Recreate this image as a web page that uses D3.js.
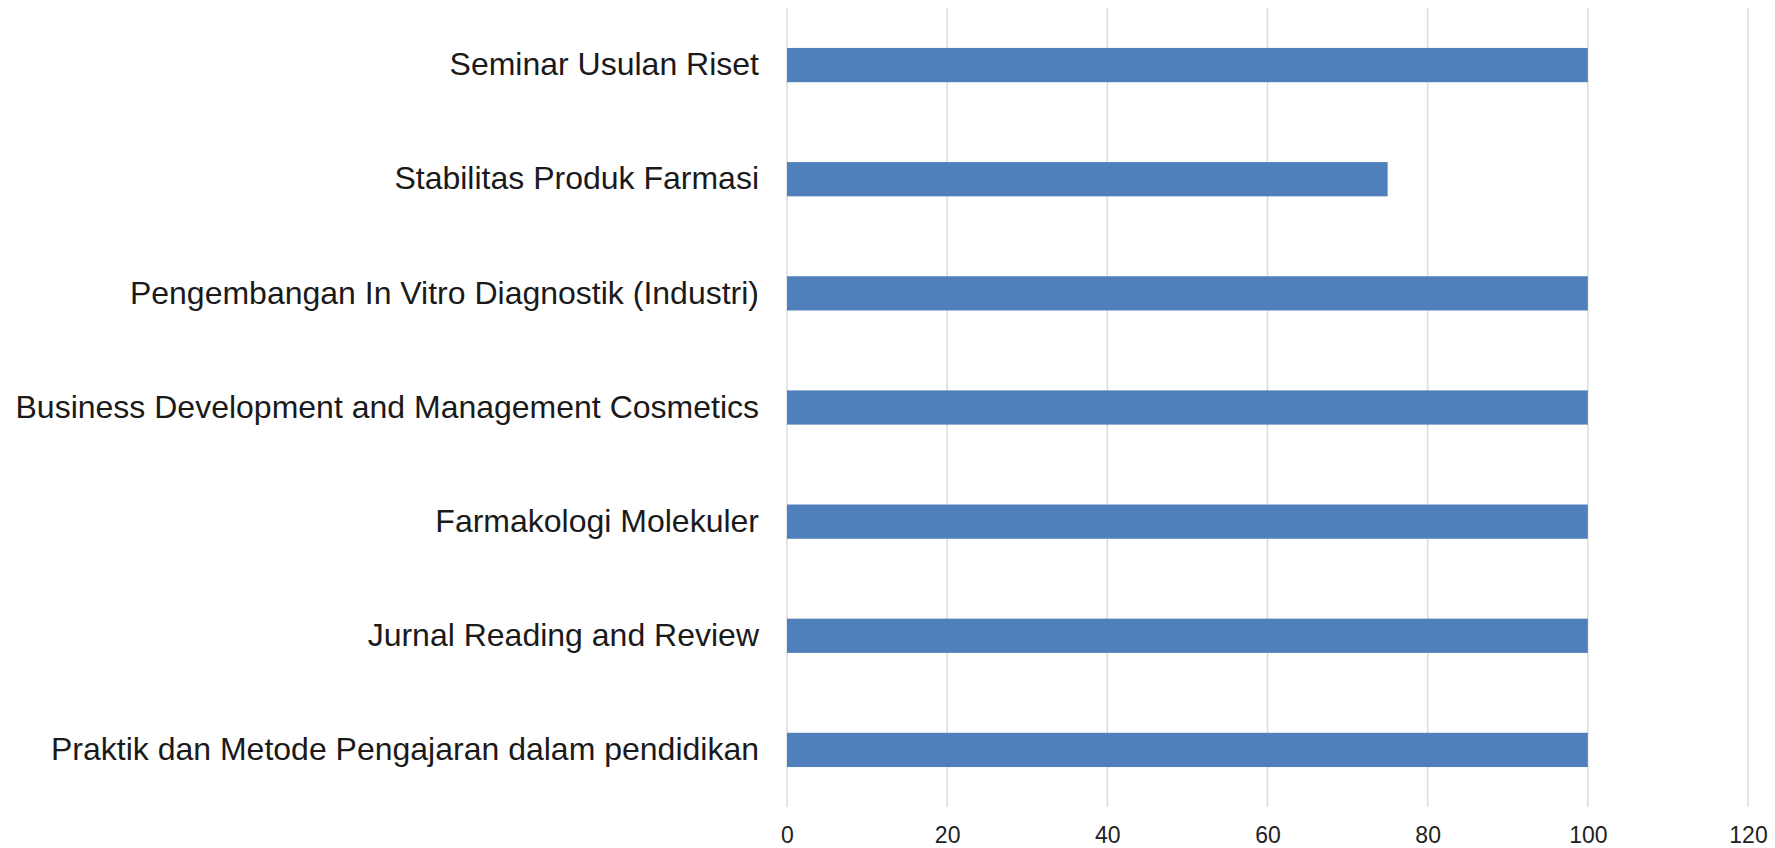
<!DOCTYPE html>
<html lang="en">

<head>
	<meta charset="utf-8">
	<title>chart</title>
	<style>
		html, body { margin: 0; padding: 0; background: #ffffff; }
		svg { display: block; }
	</style>
</head>

<body>
	<script src="https://cdn.jsdelivr.net/npm/d3@7"></script>
	<script>

		const categories = [
			"Seminar Usulan Riset",
			"Stabilitas Produk Farmasi",
			"Pengembangan In Vitro Diagnostik (Industri)",
			"Business Development and Management Cosmetics",
			"Farmakologi Molekuler",
			"Jurnal Reading and Review",
			"Praktik dan Metode Pengajaran dalam pendidikan"
		];
		const values = [100, 75, 100, 100, 100, 100, 100];
		const xTicks = [0, 20, 40, 60, 80, 100, 120];

		const width = 1775, height = 848;

		const svg = d3.select("body")
			.append("svg")
			.attr("width", width)
			.attr("height", height);

		const x = d3.scaleLinear()
			.domain([0, 120])
			.range([787, 1748]);

		const y = d3.scaleBand()
			.domain(categories)
			.range([8, 807])
			.paddingInner(0.7)
			.paddingOuter(0.35);

		// gridlines
		svg.append("g")
			.selectAll("line")
			.data(xTicks)
			.join("line")
			.attr("x1", (d) => x(d))
			.attr("x2", (d) => x(d))
			.attr("y1", 8)
			.attr("y2", 807)
			.attr("stroke", "#dcdcdc")
			.attr("stroke-width", 1.5);

		// bars
		svg.append("g")
			.selectAll("rect")
			.data(values)
			.join("rect")
			.attr("x", x(0))
			.attr("y", (d, i) => y(categories[i]))
			.attr("width", (d) => x(d) - x(0))
			.attr("height", y.bandwidth())
			.attr("fill", "#4f80bb");

		// x axis labels
		const xAxis = svg.append("g")
			.attr("transform", "translate(0,807)")
			.call(d3.axisBottom(x).tickValues(xTicks).tickSize(0).tickPadding(20));
		xAxis.select(".domain").remove();
		xAxis.selectAll("text")
			.attr("font-family", "Liberation Sans, Arial, sans-serif")
			.attr("font-size", "23px")
			.attr("fill", "#222222");

		// category labels
		const yAxis = svg.append("g")
			.attr("transform", `translate(${x(0)},0)`)
			.call(d3.axisLeft(y).tickSize(0).tickPadding(28));
		yAxis.select(".domain").remove();
		yAxis.selectAll("text")
			.attr("font-family", "Liberation Sans, Arial, sans-serif")
			.attr("font-size", "32px")
			.attr("fill", "#1a1a1a");

	</script>
</body>

</html>
